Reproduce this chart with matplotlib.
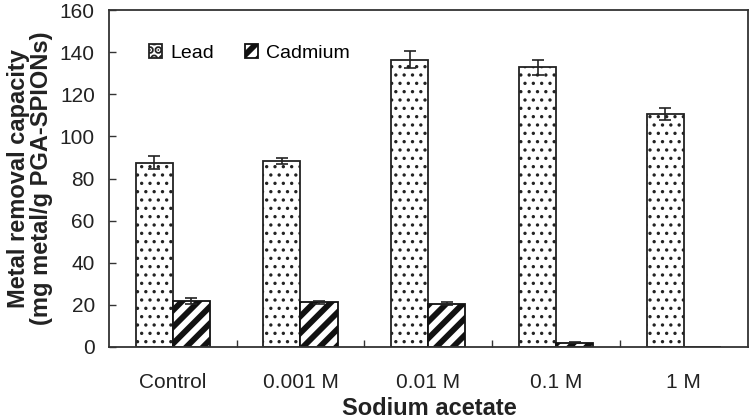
import matplotlib
matplotlib.use("Agg")
import matplotlib.pyplot as plt
import numpy as np

plt.rcParams['font.family'] = ['Liberation Sans', 'DejaVu Sans']

# data
categories = ['Control', '0.001 M', '0.01 M', '0.1 M', '1 M']
lead = [87.5, 88.3, 136.5, 132.8, 110.6]
lead_err = [3.0, 1.5, 4.2, 3.5, 3.0]
cadmium = [21.6, 21.3, 20.5, 2.0, 0.0]
cadmium_err = [1.4, 0.7, 0.6, 0.3, 0.0]

x = np.arange(len(categories))
w = 0.29

fig = plt.figure(figsize=(7.5, 4.2), dpi=100)
ax = fig.add_axes([0.145, 0.174, 0.852, 0.802])

plt.rcParams['hatch.linewidth'] = 1.2
b1 = ax.bar(x - w / 2, lead, w, color='white', edgecolor='#222222', linewidth=1.3,
            hatch='..', label='Lead')
plt.rcParams['hatch.linewidth'] = 4.2
b2 = ax.bar(x + w / 2, cadmium, w, color='white', edgecolor='#111111', linewidth=1.3,
            hatch='//', label='Cadmium')
for p in b1:
    if hasattr(p, 'set_hatch_linewidth'):
        p.set_hatch_linewidth(1.2)
for p in b2:
    if hasattr(p, 'set_hatch_linewidth'):
        p.set_hatch_linewidth(4.2)

ax.errorbar(x - w / 2, lead, yerr=lead_err, fmt='none', ecolor='#222222',
            elinewidth=1.2, capsize=4, capthick=1.2)
mask = np.array(cadmium) > 0
ax.errorbar((x + w / 2)[mask], np.array(cadmium)[mask], yerr=np.array(cadmium_err)[mask],
            fmt='none', ecolor='#222222', elinewidth=1.2, capsize=4, capthick=1.2)

ax.set_xlim(-0.5, len(categories) - 0.5)
ax.set_ylim(0, 160)
ax.set_yticks(np.arange(0, 161, 20))
ax.set_xticks(x)
ax.set_xticklabels(categories)
ax.set_xticks(np.arange(0.5, len(categories) - 0.5, 1), minor=True)
ax.tick_params(axis='x', which='major', length=0, pad=19, labelsize=15, labelcolor='#222222')
ax.tick_params(axis='x', which='minor', direction='in', length=5, width=1, color='#333333')
ax.tick_params(axis='y', direction='in', length=5, width=1, labelsize=15,
               labelcolor='#222222', color='#333333', pad=10)

for s in ax.spines.values():
    s.set_linewidth(1.3)
    s.set_color('#333333')

fig.text(0.040, 0.576, 'Metal removal capacity\n(mg metal/g PGA-SPIONs)', fontsize=17,
         fontweight='bold', color='#222222', linespacing=1.0, rotation=90,
         ha='center', va='center', multialignment='center')
fig.text(0.573, 0.012, 'Sodium acetate', fontsize=17, fontweight='bold',
         color='#222222', ha='center', va='baseline')

ax.legend(loc='upper left', bbox_to_anchor=(0.035, 0.95), ncol=2, frameon=False,
          fontsize=14, handlelength=0.7, handleheight=0.7, handletextpad=0.4,
          columnspacing=1.6)

fig.savefig('out.png', dpi=100)
